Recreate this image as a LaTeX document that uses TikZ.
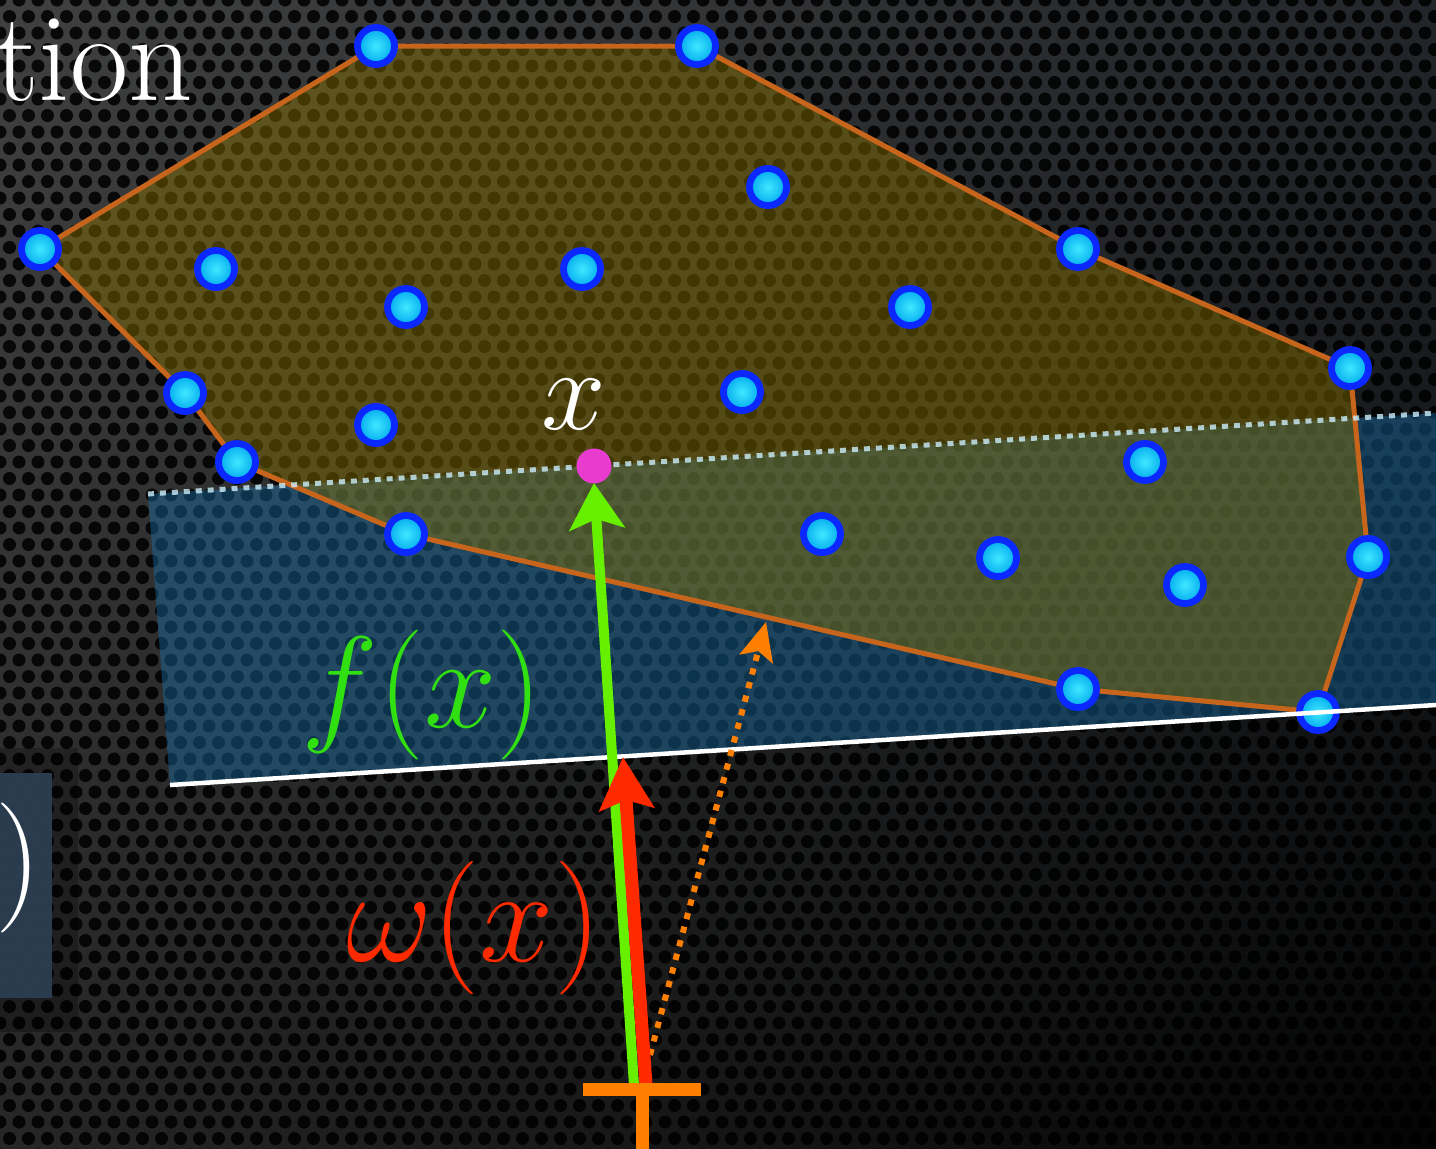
\RequirePackage{fix-cm}
\documentclass[tikz,border=0pt]{standalone}
\usepackage{fontspec}
\usetikzlibrary{arrows.meta,shadings}
\definecolor{hullline}{HTML}{C8651C}
\definecolor{hullfill}{HTML}{8C7400}
\definecolor{halffill}{HTML}{1A78B8}
\definecolor{ringblue}{HTML}{0A28FF}
\definecolor{ptin}{HTML}{40E8FF}
\definecolor{ptout}{HTML}{00A8EE}
\definecolor{pink}{HTML}{E83CCF}
\definecolor{arrgreen}{HTML}{66F000}
\definecolor{txtgreen}{HTML}{30E010}
\definecolor{arrred}{HTML}{FF2A00}
\definecolor{arrorange}{HTML}{FF7F00}
\definecolor{boxblue}{HTML}{2D3E52}
\definecolor{bgul}{HTML}{404040}
\definecolor{bgur}{HTML}{22262A}
\definecolor{bgll}{HTML}{262626}
\definecolor{bglr}{HTML}{040404}
\tikzset{
  pt/.style={circle, minimum size=0.37cm, inner sep=0pt, draw=ringblue, line width=0.068cm,
    inner color=ptin, outer color=ptout},
  hulledge/.style={draw=hullline, line width=0.05cm, line join=round},
  bigmath/.style={inner sep=0pt, font=\fontsize{37}{41}\selectfont},
}
\begin{document}
\begin{tikzpicture}[x=0.01cm,y=-0.01cm]
\useasboundingbox (0,0) rectangle (1436,1148);
\clip (0,0) rectangle (1436,1148);
% background
\shade[upper left=bgul, upper right=bgur, lower left=bgll, lower right=bglr]
  (0,0) rectangle (1436,1148);
\foreach \r in {0,...,70} {
  \fill[black, opacity=0.85] \foreach \c in {0,...,76} {
    ({\c*19 + mod(\r,2)*9.5}, {\r*16.5}) circle (0.065cm) };
}
% left box
\fill[black, opacity=0.25] (-10,748) rectangle (78,1032);
\fill[boxblue, opacity=0.95] (-10,773) rectangle (52,998);
\node[bigmath, text=white, anchor=east] (rparen) at (42,868) {$)$};
% title fragment
\node[inner sep=0pt, anchor=base east, text=white, font=\fontsize{36}{40}\selectfont] (title) at (194,100) {tion};
% points
\coordinate (h1) at (376,46);
\coordinate (h2) at (697,46);
\coordinate (h3) at (1078,249);
\coordinate (h4) at (1350,368);
\coordinate (h5) at (1368,557);
\coordinate (h6) at (1318,712);
\coordinate (h7) at (1078,689);
\coordinate (h8) at (406,534);
\coordinate (h9) at (237,462);
\coordinate (h10) at (185,393);
\coordinate (h11) at (40,249);
% half-plane corners
\coordinate (bl1) at (148,494);
\coordinate (bl2) at (1436,413);
\coordinate (bl3) at (1436,705);
\coordinate (bl4) at (170,785);
% half-plane fill
\fill[halffill, opacity=0.4] (bl1) -- (bl2) -- (bl3) -- (bl4) -- cycle;
% hull fill
\fill[hullfill, opacity=0.45] (h1) -- (h2) -- (h3) -- (h4) -- (h5) -- (h6) -- (h7) -- (h8) -- (h9) -- (h10) -- (h11) -- cycle;
% hull edges
\draw[hulledge] (h1) -- (h2) -- (h3) -- (h4) -- (h5) -- (h6) -- (h7) -- (h8) -- (h9) -- (h10) -- (h11) -- cycle;
% dotted boundary
\draw[white!80!cyan, opacity=0.8, line width=0.05cm, dash pattern=on 1.7pt off 1.7pt] (bl1) -- (bl2);
% hull points
\foreach \n in {1,...,11} { \node[pt] (P\n) at (h\n) {}; }
% interior points
\node[pt] (q1) at (768,187) {};
\node[pt] (q2) at (216,269) {};
\node[pt] (q3) at (582,269) {};
\node[pt] (q4) at (406,307) {};
\node[pt] (q5) at (910,307) {};
\node[pt] (q6) at (742,392) {};
\node[pt] (q7) at (376,425) {};
\node[pt] (q8) at (1145,462) {};
\node[pt] (q9) at (822,534) {};
\node[pt] (q10) at (998,558) {};
\node[pt] (q11) at (1185,585) {};
% white line
\draw[white, line width=0.045cm] (bl4) -- (bl3);
% query point
\node[circle, fill=pink, minimum size=0.35cm, inner sep=0pt] (xq) at (594,466) {};
\node[bigmath, text=white, font=\fontsize{33}{36}\selectfont] (xlab) at (574,405) {$x$};
% arrows
\coordinate (gs) at (634,1085);
\coordinate (gt) at (594,483);
\coordinate (rs) at (646,1085);
\coordinate (rt) at (623,757);
\coordinate (os) at (650,1055);
\coordinate (ot) at (766,622);
\draw[arrorange, line width=0.06cm, dash pattern=on 1.8pt off 2.2pt,
  -{Stealth[length=0.38cm, width=0.34cm, inset=0.08cm]}] (os) -- (ot);
\draw[arrgreen, line width=0.1cm, -{Stealth[length=0.46cm, width=0.55cm, inset=0.1cm]}] (gs) -- (gt);
\draw[arrred, line width=0.13cm, -{Stealth[length=0.52cm, width=0.54cm, inset=0.09cm]}] (rs) -- (rt);
% labels
\node[bigmath, text=txtgreen] (flab) at (422,695) {$f(x)$};
\node[bigmath, text=arrred, font=\fontsize{38}{42}\selectfont] (wlab) at (474,928) {$\omega(x)$};
% orange cross
\coordinate (cl) at (583,1089);
\coordinate (cr) at (701,1089);
\coordinate (cb) at (642,1160);
\coordinate (cm) at (642,1083);
\draw[arrorange, line width=0.13cm] (cl) -- (cr);
\draw[arrorange, line width=0.13cm] (cm) -- (cb);
\end{tikzpicture}
\end{document}
